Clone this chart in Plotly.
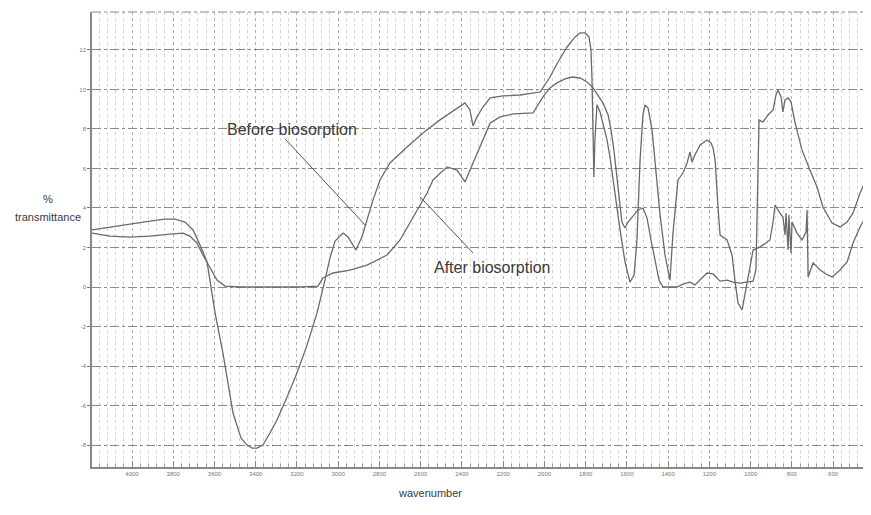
import plotly.graph_objects as go

# Before biosorption (wavenumber cm-1, % transmittance)
before_wn = [4194, 4107, 4010, 3913, 3840, 3791, 3743, 3704, 3670, 3636, 3597, 3559, 3510, 3471,
             3442, 3418, 3394, 3365, 3331, 3297, 3248, 3200, 3151, 3103, 3064, 3040, 3015, 2977,
             2952, 2914, 2885, 2860, 2831, 2797, 2749, 2666, 2589, 2506, 2424, 2385, 2361, 2346,
             2327, 2298, 2263, 2201, 2118, 2021, 1973, 1934, 1890, 1851, 1827, 1803, 1784, 1774,
             1769, 1764, 1760, 1755, 1750, 1745, 1730, 1716, 1696, 1682, 1658, 1633, 1609, 1585,
             1565, 1551, 1536, 1522, 1512, 1497, 1478, 1458, 1439, 1415, 1391, 1376, 1352, 1328,
             1308, 1294, 1284, 1270, 1245, 1211, 1192, 1182, 1172, 1158, 1148, 1114, 1090, 1076,
             1061, 1041, 1027, 1012, 1003, 988, 954, 925, 906, 891, 881, 862, 843, 833, 828, 818,
             814, 804, 799, 775, 751, 731, 726, 721, 697, 663, 634, 605, 566, 532, 503, 469, 445, 416]
before_t = [2.89, 3.04, 3.19, 3.34, 3.44, 3.44, 3.29, 2.89, 2.13, 1.27, -1.32, -3.34, -6.38, -7.65,
            -8.0, -8.15, -8.15, -8.0, -7.39, -6.73, -5.57, -4.35, -2.94, -1.32, 0.35, 1.47, 2.33, 2.73,
            2.53, 1.87, 2.53, 3.39, 4.41, 5.42, 6.28, 7.09, 7.80, 8.46, 9.06, 9.32, 8.96, 8.15,
            8.61, 9.11, 9.57, 9.67, 9.72, 9.87, 10.63, 11.39, 12.15, 12.66, 12.86, 12.86, 12.66, 12.0,
            10.48, 7.95, 5.57, 7.44, 8.71, 9.22, 8.86, 8.30, 7.44, 6.58, 4.66, 2.89, 1.27, 0.25,
            0.61, 2.38, 6.43, 8.71, 9.22, 9.06, 7.95, 5.92, 3.65, 1.62, 0.35, 2.78, 5.42, 5.77,
            6.28, 6.84, 6.33, 6.68, 7.19, 7.44, 7.29, 7.04, 6.43, 4.05, 2.63, 2.38, 1.62, 0.35,
            -0.81, -1.16, -0.41, 0.35, 1.01, 1.87, 2.03, 2.23, 2.38, 3.29, 4.15, 3.80, 3.54, 2.63, 3.75, 1.87,
            3.65, 1.72, 3.29, 2.73, 2.38, 2.78, 3.90, 0.51, 1.22, 0.86, 0.66, 0.51, 0.86, 1.27, 2.23, 3.04, 3.49, 3.80]

# After biosorption
after_wn = [4194, 4107, 4010, 3913, 3816, 3753, 3719, 3685, 3656, 3622, 3588, 3549, 3476, 3379,
            3282, 3185, 3098, 3074, 3025, 2943, 2860, 2763, 2700, 2637, 2569, 2540, 2472, 2424,
            2385, 2375, 2346, 2312, 2263, 2215, 2152, 2055, 2007, 1973, 1939, 1900, 1866, 1827,
            1793, 1764, 1740, 1716, 1691, 1677, 1663, 1648, 1633, 1624, 1609, 1594, 1570, 1546,
            1522, 1502, 1483, 1463, 1444, 1425, 1391, 1357, 1328, 1294, 1270, 1245, 1211, 1182,
            1148, 1114, 1085, 1051, 988, 974, 964, 959, 940, 915, 891, 877, 867, 852, 843, 833,
            818, 804, 785, 751, 712, 678, 649, 605, 566, 532, 503, 469, 445, 416]
after_t = [2.73, 2.58, 2.53, 2.58, 2.68, 2.73, 2.58, 2.23, 1.62, 0.96, 0.35, 0.05, 0.0, 0.0,
           0.0, 0.0, 0.05, 0.46, 0.71, 0.86, 1.11, 1.62, 2.38, 3.54, 4.76, 5.42, 6.08, 5.92,
           5.32, 5.57, 6.28, 7.09, 8.30, 8.61, 8.76, 8.81, 9.62, 10.08, 10.33, 10.53, 10.63, 10.58,
           10.38, 10.08, 9.72, 9.32, 8.71, 7.95, 6.94, 5.42, 3.90, 3.29, 2.99, 3.29, 3.59, 3.90,
           4.00, 3.49, 2.38, 1.27, 0.35, 0.0, 0.0, 0.0, 0.15, 0.25, 0.10, 0.35, 0.71, 0.66,
           0.30, 0.35, 0.25, 0.20, 0.30, 0.86, 5.42, 8.46, 8.35, 8.71, 8.96, 9.72, 9.97, 9.62, 8.86, 9.47,
           9.57, 9.37, 8.35, 6.94, 5.92, 5.06, 4.05, 3.24, 3.04, 3.29, 3.75, 4.76, 5.32, 6.03]

y_ticks = [12, 10, 8, 6, 4, 2, 0, -2, -4, -6, -8]
x_ticks = [4000, 3800, 3600, 3400, 3200, 3000, 2800, 2600, 2400, 2200, 2000,
           1800, 1600, 1400, 1200, 1000, 800, 600, 400]

LINE = "#6a6a6a"
TXT = "#3a3a3a"
FONT = "Liberation Sans, Arial, sans-serif"

fig = go.Figure()
fig.add_trace(go.Scatter(x=before_wn, y=before_t, mode="lines", name="Before biosorption",
                         line=dict(color=LINE, width=1.3), showlegend=False))
fig.add_trace(go.Scatter(x=after_wn, y=after_t, mode="lines", name="After biosorption",
                         line=dict(color=LINE, width=1.3), showlegend=False))

# curve labels
fig.add_annotation(x=3224, y=7.95, xref="x", yref="y", text="Before biosorption", showarrow=False,
                   font=dict(family=FONT, size=16, color=TXT))
fig.add_annotation(x=2254, y=1.01, xref="x", yref="y", text="After biosorption", showarrow=False,
                   font=dict(family=FONT, size=16, color=TXT))
# leader lines
fig.add_shape(type="line", x0=3258, y0=7.5, x1=2865, y1=3.09, xref="x", yref="y",
              line=dict(color="#555555", width=1))
fig.add_shape(type="line", x0=2603, y0=4.56, x1=2346, y1=1.72, xref="x", yref="y",
              line=dict(color="#555555", width=1))

# axis titles
fig.add_annotation(x=-0.056, y=0.589, xref="paper", yref="paper", text="%", showarrow=False,
                   xanchor="center", yanchor="middle", font=dict(family=FONT, size=11, color=TXT))
fig.add_annotation(x=-0.056, y=0.549, xref="paper", yref="paper", text="transmittance", showarrow=False,
                   xanchor="center", yanchor="middle", font=dict(family=FONT, size=11, color=TXT))
fig.add_annotation(x=0.434, y=-0.057, xref="paper", yref="paper", text="wavenumber", showarrow=False,
                   xanchor="center", yanchor="middle", font=dict(family=FONT, size=11, color=TXT))

fig.update_layout(
    width=863, height=490,
    margin=dict(l=84, r=0, t=4, b=31),
    paper_bgcolor="white", plot_bgcolor="white",
    xaxis=dict(range=[4194, 416], tickvals=x_ticks, ticktext=[str(v) for v in x_ticks],
               showgrid=True, gridcolor="#b0b0b0", gridwidth=1, griddash="dot",
               minor=dict(dtick=40, tick0=0, showgrid=True, gridcolor="#d4d4d4", griddash="dot",
                          ticks="inside", ticklen=3, tickcolor="#999999"),
               ticks="inside", ticklen=6, tickcolor="#888888",
               showline=True, linecolor="#888888", linewidth=1.5, mirror=False,
               tickfont=dict(family=FONT, size=6, color="#777777"),
               zeroline=False),
    yaxis=dict(range=[-9.11, 13.92], tickvals=y_ticks, ticktext=[str(v) for v in y_ticks],
               showgrid=True, gridcolor="#8a8a8a", gridwidth=1.2, griddash="dashdot",
               ticks="outside", ticklen=3, tickcolor="#777777",
               showline=True, linecolor="#888888", linewidth=1.5,
               tickfont=dict(family=FONT, size=6, color="#777777"),
               zeroline=False),
)
# top frame line
fig.add_shape(type="line", xref="paper", yref="paper", x0=0, x1=1, y0=1, y1=1,
              line=dict(color="#8a8a8a", width=1.2, dash="dashdot"))

fig.write_html("out.html")
